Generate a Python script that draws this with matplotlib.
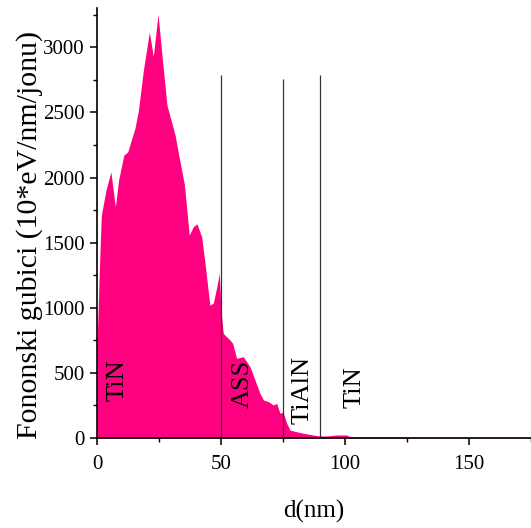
import matplotlib
import matplotlib.pyplot as plt
from matplotlib.ticker import MultipleLocator

matplotlib.use("Agg")

# depth (nm) and phonon losses
d = [0, 0.9, 1.7, 2.0, 3.6, 5.6, 7.4, 8.7, 10.8, 12.4, 13.8, 15.3, 16.7, 18.7,
     21.1, 22.7, 24.6, 26.4, 28.2, 31.5, 32.8, 35.2, 37.2, 38.8, 40.3, 42.2,
     43.5, 45.5, 46.9, 48.3, 49.3, 50.0, 50.9, 53.6, 54.7, 56.3, 59.0, 61.7,
     63.7, 65.7, 67.1, 69.1, 71.1, 72.4, 73.8, 75.0, 76.5, 77.8, 80.5, 83.2,
     87.2, 89.9, 93.0, 96.6, 100.7, 102.0, 104.0, 120.0, 140.0, 160.0, 175.0]
loss = [700, 1264, 1698, 1737, 1903, 2044, 1775, 1980, 2172, 2197, 2287, 2379,
        2517, 2824, 3118, 2930, 3254, 2900, 2556, 2325, 2187, 1950, 1558, 1622,
        1645, 1545, 1350, 1020, 1036, 1161, 1264, 982, 803, 752, 727, 612, 624,
        547, 445, 343, 292, 279, 253, 266, 190, 198, 113, 61, 48, 36, 23, 15,
        16, 23, 23, 10, 6, 6, 5, 5, 5]

# layer boundaries and their line heights
bounds = [50, 75, 90]
bound_tops = [2790, 2755, 2790]

# layer labels
layer_x = [8.1, 58.7, 83.0, 104.0]
layer_y = [445, 418, 368, 390]
layer_txt = ["TiN", "ASS", "TiAlN", "TiN"]

plt.rcParams["font.family"] = ["Liberation Serif", "DejaVu Serif"]

fig = plt.figure(figsize=(5.31, 5.28), dpi=100)
ax = fig.add_axes([0.1827, 0.1705, 0.8173, 0.8138])

ax.fill_between(d, loss, 0, color="#FF0080", linewidth=0)
ax.vlines(bounds, 0, bound_tops, color="#333333", linewidth=0.9)

for x, y, t in zip(layer_x, layer_y, layer_txt):
    ax.text(x, y, t, rotation=90, ha="center", va="center", fontsize=19)

ax.set_xlim(0, 175)
ax.set_ylim(0, 3300)
ax.xaxis.set_major_locator(MultipleLocator(50))
ax.xaxis.set_minor_locator(MultipleLocator(25))
ax.yaxis.set_major_locator(MultipleLocator(500))
ax.yaxis.set_minor_locator(MultipleLocator(250))
ax.tick_params(which="major", direction="out", length=5, width=1.1,
               labelsize=15, pad=4)
ax.tick_params(axis="x", which="major", pad=7)
ax.tick_params(which="minor", direction="out", length=3, width=1.0)

for side in ("top", "right"):
    ax.spines[side].set_visible(False)
for side in ("left", "bottom"):
    ax.spines[side].set_linewidth(1.2)

ax.set_xlabel("d(nm)", fontsize=18, labelpad=19)
ax.set_ylabel("Fononski gubici (10*eV/nm/jonu)", fontsize=21.5)
ax.yaxis.set_label_coords(-0.124, 0.472)

fig.savefig("out.png", dpi=100)
